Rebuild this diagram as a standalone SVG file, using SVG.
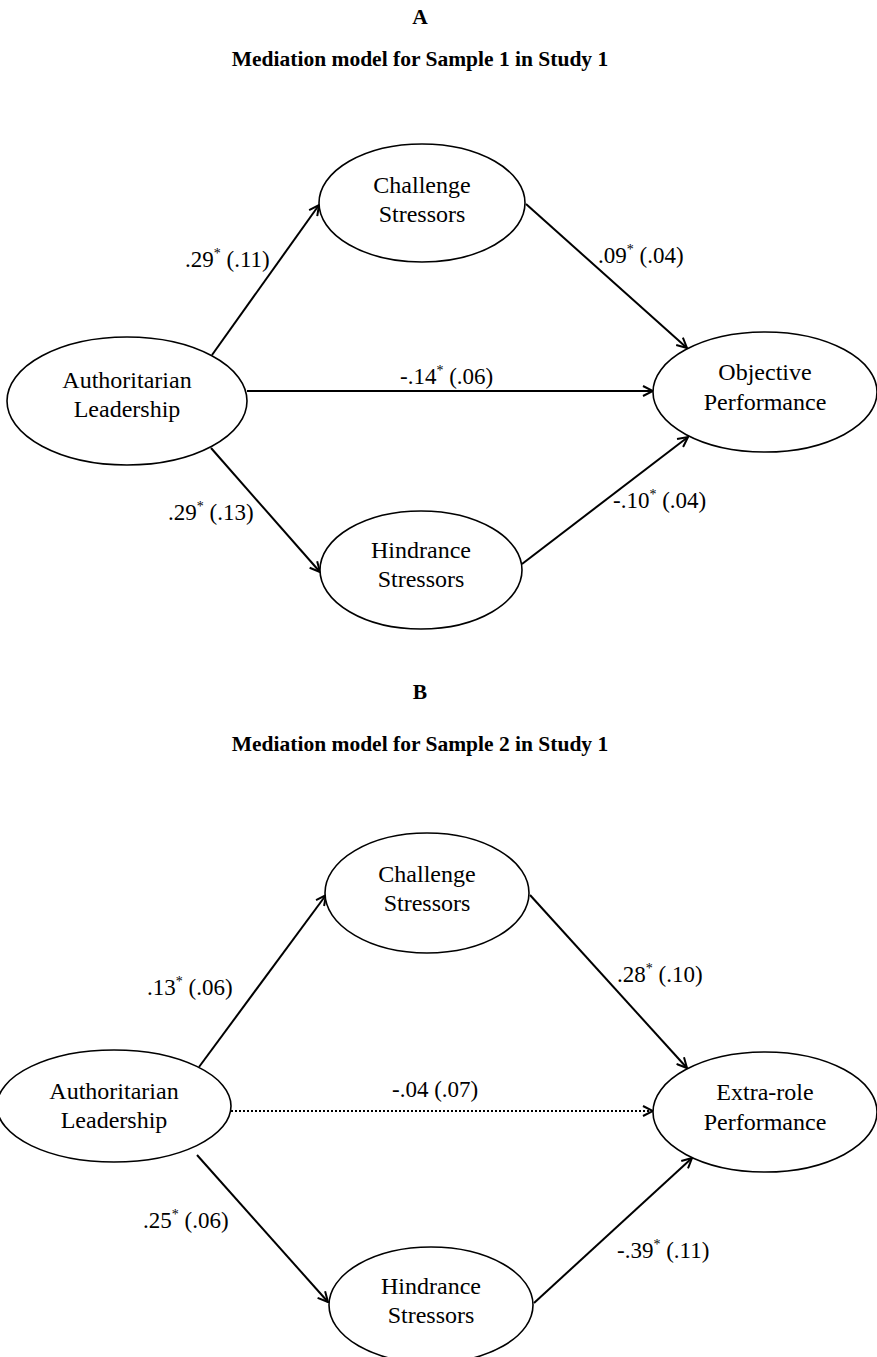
<svg xmlns="http://www.w3.org/2000/svg" width="877" height="1357" viewBox="0 0 877 1357">
<defs>
<marker id="arr" viewBox="0 0 12 12" refX="11" refY="6" markerWidth="12" markerHeight="12" markerUnits="userSpaceOnUse" orient="auto">
<path d="M1,1 L11,6 L1,11" fill="none" stroke="#000" stroke-width="2"/>
</marker>
<style>
text{font-family:"Liberation Serif","Times New Roman",serif;fill:#000}
.node ellipse{fill:#fff;stroke:#000;stroke-width:1.6}
.node text{font-size:24px;text-anchor:middle}
.lbl{font-size:23px}
.sup{font-size:14px}
.title{font-weight:bold;font-size:21.5px;text-anchor:middle}
.edge{stroke:#000;stroke-width:2;fill:none;marker-end:url(#arr)}
.dot{stroke-dasharray:2 2}
</style>
</defs>
<rect width="877" height="1357" fill="#fff"/>
<text class="title" x="420" y="24">A</text>
<text class="title" x="420" y="66">Mediation model for Sample 1 in Study 1</text>
<text class="title" x="420" y="699">B</text>
<text class="title" x="420" y="751">Mediation model for Sample 2 in Study 1</text>
<g id="connectors">
<line class="edge" x1="212" y1="355" x2="319" y2="205"/>
<line class="edge" x1="526" y1="204" x2="687" y2="348"/>
<line class="edge" x1="247" y1="391" x2="653" y2="391"/>
<line class="edge" x1="211" y1="448" x2="320" y2="572"/>
<line class="edge" x1="522" y1="564" x2="688" y2="437"/>
<line class="edge" x1="199" y1="1067" x2="326" y2="895"/>
<line class="edge" x1="530" y1="895" x2="687" y2="1068"/>
<line class="edge dot" x1="231" y1="1111" x2="653" y2="1111"/>
<line class="edge" x1="197" y1="1155" x2="328" y2="1302"/>
<line class="edge" x1="534" y1="1303" x2="692" y2="1158"/>
</g>
<g id="labels">
<text class="lbl" x="185" y="267">.29<tspan class="sup" dy="-9">*</tspan><tspan dy="9"> (.11)</tspan></text>
<text class="lbl" x="598" y="263">.09<tspan class="sup" dy="-9">*</tspan><tspan dy="9"> (.04)</tspan></text>
<text class="lbl" x="400" y="384">-.14<tspan class="sup" dy="-9">*</tspan><tspan dy="9"> (.06)</tspan></text>
<text class="lbl" x="168" y="520">.29<tspan class="sup" dy="-9">*</tspan><tspan dy="9"> (.13)</tspan></text>
<text class="lbl" x="613" y="508">-.10<tspan class="sup" dy="-9">*</tspan><tspan dy="9"> (.04)</tspan></text>
<text class="lbl" x="147" y="995">.13<tspan class="sup" dy="-9">*</tspan><tspan dy="9"> (.06)</tspan></text>
<text class="lbl" x="617" y="982">.28<tspan class="sup" dy="-9">*</tspan><tspan dy="9"> (.10)</tspan></text>
<text class="lbl" x="392" y="1097">-.04 (.07)</text>
<text class="lbl" x="143" y="1228">.25<tspan class="sup" dy="-9">*</tspan><tspan dy="9"> (.06)</tspan></text>
<text class="lbl" x="617" y="1258">-.39<tspan class="sup" dy="-9">*</tspan><tspan dy="9"> (.11)</tspan></text>
</g>
<g id="a-auth" class="node"><ellipse cx="127" cy="401" rx="120" ry="64"/><text x="127" y="388">Authoritarian</text><text x="127" y="417">Leadership</text></g>
<g id="a-chal" class="node"><ellipse cx="422" cy="203" rx="103" ry="59"/><text x="422" y="193">Challenge</text><text x="422" y="222">Stressors</text></g>
<g id="a-obj" class="node"><ellipse cx="765" cy="392" rx="112" ry="60"/><text x="765" y="380">Objective</text><text x="765" y="410">Performance</text></g>
<g id="a-hind" class="node"><ellipse cx="421" cy="570" rx="101" ry="59"/><text x="421" y="558">Hindrance</text><text x="421" y="587">Stressors</text></g>
<g id="b-auth" class="node"><ellipse cx="114" cy="1106" rx="117" ry="56"/><text x="114" y="1099">Authoritarian</text><text x="114" y="1128">Leadership</text></g>
<g id="b-chal" class="node"><ellipse cx="427" cy="893" rx="102" ry="60"/><text x="427" y="882">Challenge</text><text x="427" y="911">Stressors</text></g>
<g id="b-extra" class="node"><ellipse cx="765" cy="1112" rx="112" ry="60"/><text x="765" y="1100">Extra-role</text><text x="765" y="1130">Performance</text></g>
<g id="b-hind" class="node"><ellipse cx="431" cy="1305" rx="102" ry="58"/><text x="431" y="1294">Hindrance</text><text x="431" y="1323">Stressors</text></g>
</svg>
